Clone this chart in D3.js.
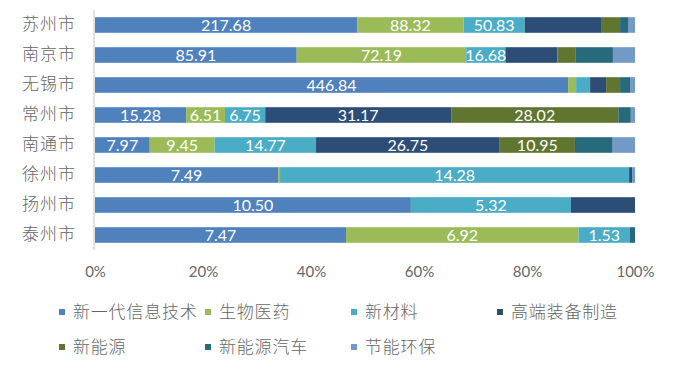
<!DOCTYPE html>
<html>
<head>
<meta charset="utf-8">
<script src="https://cdn.jsdelivr.net/npm/d3@7"></script>
<style>
  body { margin: 0; background: #fff; }
  svg { display: block; }
</style>
</head>
<body>
<div id="chart"></div>
<script>
// data
const cities = ['苏州市', '南京市', '无锡市', '常州市', '南通市', '徐州市', '扬州市', '泰州市'];
const seriesNames = ['新一代信息技术', '生物医药', '新材料', '高端装备制造', '新能源', '新能源汽车', '节能环保'];
const xinxi = [217.68, 85.91, 446.84, 15.28, 7.97, 7.49, 10.50, 7.47];
const shengwu = [88.32, 72.19, 7.6, 6.51, 9.45, 0.08, 0, 6.92];
const cailiao = [50.83, 16.68, 13.2, 6.75, 14.77, 14.28, 5.32, 1.53];
const gaoduan = [63.3, 22.2, 15.1, 31.17, 26.75, 0.12, 2.13, 0];
const xinnengyuan = [15.8, 7.8, 13.2, 28.02, 10.95, 0, 0, 0];
const qiche = [6.6, 15.8, 9.4, 2.1, 5.5, 0, 0, 0.15];
const jieneng = [5.8, 9.4, 4.7, 0.7, 3.25, 0.12, 0, 0];
// which series carry a value label in each city's bar
const labelled = [[0, 1, 2], [0, 1, 2], [0], [0, 1, 2, 3, 4], [0, 1, 2, 3, 4], [0, 2], [0, 2], [0, 1, 2]];
const ticks = [0, 0.2, 0.4, 0.6, 0.8, 1];

const colors = ['#4F81BD', '#9BBB59', '#4BACC6', '#2C4D75', '#5F7530', '#276A7C', '#7399C6'];
const allSeries = [xinxi, shengwu, cailiao, gaoduan, xinnengyuan, qiche, jieneng];

const width = 673, height = 376;
const cjk = '"Noto Sans CJK SC", sans-serif';
const num = 'Lato, "Noto Sans", sans-serif';
const grey = '#666666';

const rows = cities.map((c, i) => {
    const r = { city: c, idx: i };
    seriesNames.forEach((s, j) => { r[s] = allSeries[j][i]; });
    return r;
});

const stacked = d3.stack()
    .keys(seriesNames)
    .offset(d3.stackOffsetExpand)(rows);

const x = d3.scaleLinear().domain([0, 1]).range([95, 635]);
const y = d3.scaleBand().domain(cities).range([10, 250])
    .paddingInner(0.48).paddingOuter(0.24);
const color = d3.scaleOrdinal().domain(seriesNames).range(colors);

const svg = d3.select('#chart').append('svg')
    .attr('width', width)
    .attr('height', height);

// category axis line
svg.append('line')
    .attr('x1', 94).attr('x2', 94)
    .attr('y1', 10).attr('y2', 250)
    .attr('stroke', '#D9D9D9')
    .attr('stroke-width', 1.5);

const groups = svg.append('g')
    .selectAll('g')
    .data(stacked)
    .join('g')
    .attr('fill', d => color(d.key));

groups.selectAll('rect')
    .data(d => d)
    .join('rect')
    .attr('x', d => x(d[0]))
    .attr('y', d => y(d.data.city))
    .attr('width', d => Math.max(0, x(d[1]) - x(d[0])))
    .attr('height', y.bandwidth());

// value labels
stacked.forEach((layer, j) => {
    svg.append('g')
        .selectAll('text')
        .data(layer.filter(d => labelled[d.data.idx].includes(j)))
        .join('text')
        .attr('x', d => (x(d[0]) + x(d[1])) / 2)
        .attr('y', d => y(d.data.city) + y.bandwidth() / 2)
        .attr('dy', '0.36em')
        .attr('text-anchor', 'middle')
        .attr('fill', '#fff')
        .style('font-family', num)
        .style('font-size', '16px')
        .text(d => d.data[layer.key].toFixed(2));
});

// city labels
const yAxis = svg.append('g')
    .attr('transform', 'translate(94,0)')
    .call(d3.axisLeft(y).tickSize(0).tickPadding(18));
yAxis.select('.domain').remove();
yAxis.selectAll('text')
    .attr('fill', grey)
    .style('font-family', cjk)
    .style('font-weight', 300)
    .style('font-size', '17px')
    .style('letter-spacing', '1px');

// percent axis
const xAxis = svg.append('g')
    .attr('transform', 'translate(0,263)')
    .call(d3.axisBottom(x).tickValues(ticks).tickFormat(d3.format('.0%')).tickSize(0));
xAxis.select('.domain').remove();
xAxis.selectAll('text')
    .attr('fill', grey)
    .style('font-family', num)
    .style('font-size', '15px');

// legend
const legend = svg.append('g')
    .selectAll('g')
    .data(seriesNames)
    .join('g')
    .attr('transform', (d, i) => `translate(${59 + (i % 4) * 146},${312 + Math.floor(i / 4) * 35})`);

legend.append('rect')
    .attr('x', 0).attr('y', -3)
    .attr('width', 6).attr('height', 6)
    .attr('fill', d => color(d));

legend.append('text')
    .attr('x', 14)
    .attr('dy', '0.36em')
    .attr('fill', grey)
    .style('font-family', cjk)
    .style('font-weight', 300)
    .style('font-size', '17px')
    .style('letter-spacing', '0.8px')
    .text(d => d);
</script>
</body>
</html>
